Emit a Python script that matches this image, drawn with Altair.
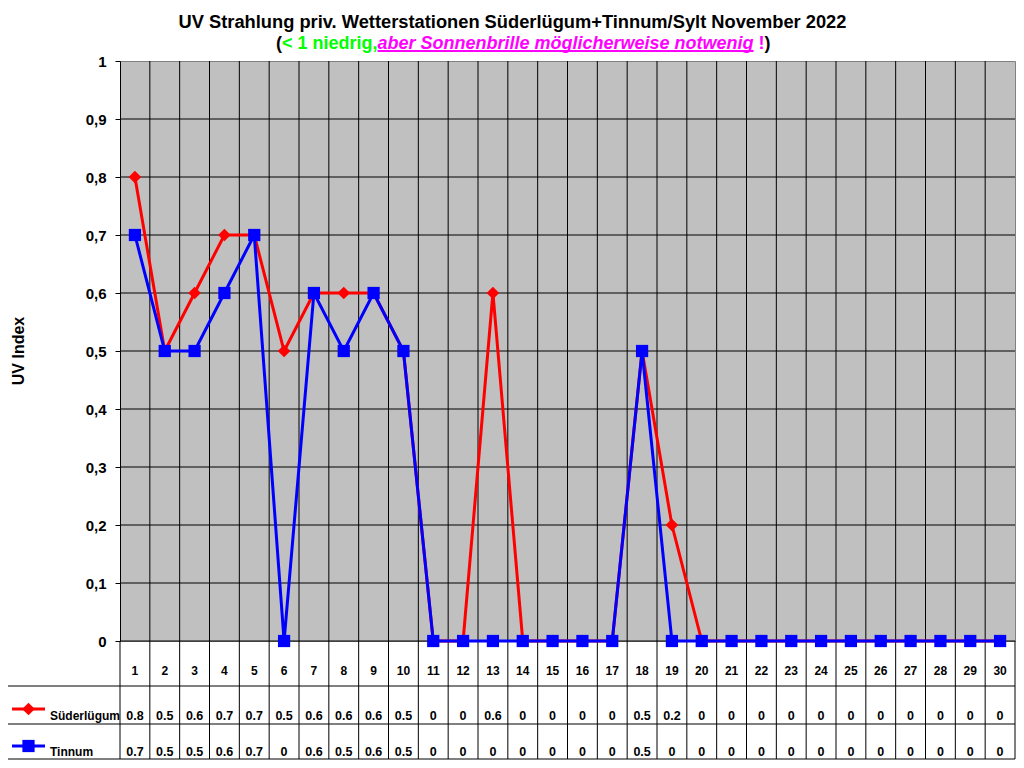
import altair as alt
import pandas as pd

# ---------------- data ----------------
days = list(range(1, 31))
suederluegum = [0.8, 0.5, 0.6, 0.7, 0.7, 0.5, 0.6, 0.6, 0.6, 0.5,
                0, 0, 0.6, 0, 0, 0, 0, 0.5, 0.2, 0,
                0, 0, 0, 0, 0, 0, 0, 0, 0, 0]
tinnum = [0.7, 0.5, 0.5, 0.6, 0.7, 0, 0.6, 0.5, 0.6, 0.5,
          0, 0, 0, 0, 0, 0, 0, 0.5, 0, 0,
          0, 0, 0, 0, 0, 0, 0, 0, 0, 0]
series_names = ["Süderlügum", "Tinnum"]
series_colors = ["#FF0000", "#0000FF"]
y_ticks = [0, 0.1, 0.2, 0.3, 0.4, 0.5, 0.6, 0.7, 0.8, 0.9, 1]
title_text = "UV Strahlung priv. Wetterstationen Süderlügum+Tinnum/Sylt November 2022"
subtitle_parts = ["(", "< 1 niedrig,", "aber Sonnenbrille möglicherweise notwenig", "!", ")"]
y_title = "UV Index"

# ---------------- layout ----------------
W, H = 895, 580
FONT = "Liberation Sans"
ROW_LINES = [625, 663, 698]      # table horizontal lines (px below plot top)
TABLE_BOTTOM = 698
LEFT_EDGE = -114                 # left border of table (px from plot left)

df = pd.DataFrame({"day": days, "sued": suederluegum, "tinn": tinnum})
df["day_lbl"] = [str(d) for d in days]
df["sued_lbl"] = [f"{v:g}" for v in suederluegum]
df["tinn_lbl"] = [f"{v:g}" for v in tinnum]

bounds_inner = pd.DataFrame({"b": [d + 0.5 for d in days[:-1]]})
bounds_outer = pd.DataFrame({"b": [days[0] - 0.5, days[-1] + 0.5]})
grid_df = pd.DataFrame({"v": y_ticks[:-1]})
one = pd.DataFrame({"k": [0]})

xs = alt.Scale(domain=[days[0] - 0.5, days[-1] + 0.5], nice=False, zero=False)
ys = alt.Scale(domain=[0, 1], nice=False, zero=True)

yaxis = alt.Axis(
    values=y_ticks, title=None, grid=False,
    domainColor="black", domainWidth=1,
    tickColor="black", tickSize=5, tickWidth=1,
    labelFont=FONT, labelFontSize=15, labelFontWeight="bold", labelColor="black",
    labelPadding=9,
    labelExpr="datum.value == 0 ? '0' : (datum.value == 1 ? '1' : replace(format(datum.value, '.1f'), '.', ','))",
)


def X(f):
    return alt.X(f, type="quantitative", scale=xs, axis=None)


def Y(f):
    return alt.Y(f, type="quantitative", scale=ys, axis=yaxis)


layers = []

# horizontal grid lines
layers.append(alt.Chart(grid_df).mark_rule(color="black", strokeWidth=1).encode(
    y=Y("v"), x=alt.value(0), x2=alt.value(W)))

# vertical grid lines (through plot and table)
layers.append(alt.Chart(bounds_inner).mark_rule(color="black", strokeWidth=1).encode(
    x=X("b"), y=alt.value(0), y2=alt.value(TABLE_BOTTOM)))
layers.append(alt.Chart(bounds_outer).mark_rule(color="black", strokeWidth=1).encode(
    x=X("b"), y=alt.value(H), y2=alt.value(TABLE_BOTTOM)))

# table horizontal lines + left border
for yl in ROW_LINES:
    layers.append(alt.Chart(one).mark_rule(color="black", strokeWidth=1).encode(
        x=alt.value(LEFT_EDGE), x2=alt.value(W), y=alt.value(yl)))
layers.append(alt.Chart(one).mark_rule(color="black", strokeWidth=1).encode(
    x=alt.value(LEFT_EDGE), y=alt.value(ROW_LINES[0]), y2=alt.value(TABLE_BOTTOM)))

# series
layers.append(alt.Chart(df).mark_line(color=series_colors[0], strokeWidth=3).encode(
    x=X("day"), y=Y("sued")))
layers.append(alt.Chart(df).mark_point(shape="diamond", filled=True, size=160,
                                       color=series_colors[0], opacity=1).encode(
    x=X("day"), y=Y("sued")))
layers.append(alt.Chart(df).mark_line(color=series_colors[1], strokeWidth=3).encode(
    x=X("day"), y=Y("tinn")))
layers.append(alt.Chart(df).mark_square(size=150, color=series_colors[1], opacity=1).encode(
    x=X("day"), y=Y("tinn")))

# table text
txt = dict(font=FONT, fontWeight="bold", color="black",
           align="center", baseline="alphabetic")
layers.append(alt.Chart(df).mark_text(fontSize=12, **txt).encode(
    x=X("day"), y=alt.value(614), text="day_lbl:N"))
layers.append(alt.Chart(df).mark_text(fontSize=12.5, **txt).encode(
    x=X("day"), y=alt.value(659), text="sued_lbl:N"))
layers.append(alt.Chart(df).mark_text(fontSize=12.5, **txt).encode(
    x=X("day"), y=alt.value(695), text="tinn_lbl:N"))

# legend in table
leg_rows = [(648, 659), (685, 695)]
for i, (ly, lb) in enumerate(leg_rows):
    layers.append(alt.Chart(one).mark_rule(color=series_colors[i], strokeWidth=3).encode(
        x=alt.value(-108), x2=alt.value(-75), y=alt.value(ly)))
    if i == 0:
        layers.append(alt.Chart(one).mark_point(shape="diamond", filled=True, size=160,
                                                color=series_colors[i], opacity=1).encode(
            x=alt.value(-91.5), y=alt.value(ly)))
    else:
        layers.append(alt.Chart(one).mark_square(size=150, color=series_colors[i], opacity=1).encode(
            x=alt.value(-91.5), y=alt.value(ly)))
    layers.append(alt.Chart(one).mark_text(font=FONT, fontSize=12, fontWeight="bold",
                                           color="black", align="left",
                                           baseline="alphabetic", text=series_names[i]).encode(
        x=alt.value(-70), y=alt.value(lb)))

# y axis title
layers.append(alt.Chart(one).mark_text(font=FONT, fontSize=16, fontWeight="bold", color="black",
                                       angle=270, align="center", baseline="middle",
                                       text=y_title).encode(
    x=alt.value(-101.5), y=alt.value(H / 2)))

# title
layers.append(alt.Chart(one).mark_text(font=FONT, fontSize=18.3, fontWeight="bold", color="black",
                                       align="center", baseline="alphabetic",
                                       text=title_text).encode(
    x=alt.value(392.5), y=alt.value(-33)))

# subtitle in coloured pieces
sub_x = [156, 162, 257.5, 638.6, 644.6]
sub_col = ["black", "#00FF00", "#FF00FF", "#FF00FF", "black"]
sub_style = ["normal", "normal", "italic", "normal", "normal"]
for t, xv, c, st in zip(subtitle_parts, sub_x, sub_col, sub_style):
    layers.append(alt.Chart(one).mark_text(font=FONT, fontSize=18, fontWeight="bold", color=c,
                                           fontStyle=st, align="left", baseline="alphabetic",
                                           text=t).encode(
        x=alt.value(xv), y=alt.value(-12)))
layers.append(alt.Chart(one).mark_rule(color="#FF00FF", strokeWidth=2).encode(
    x=alt.value(257.5), x2=alt.value(633.6), y=alt.value(-10)))

chart = alt.layer(*layers).properties(
    width=W, height=H,
    autosize=alt.AutoSizeParams(type="none"),
    padding={"left": 112, "top": 53, "right": 1, "bottom": 119},
    background="white",
).configure_view(fill="#C0C0C0", stroke="#808080", strokeWidth=1)

chart.save("out.html", embed_options={"renderer": "svg", "actions": False})
